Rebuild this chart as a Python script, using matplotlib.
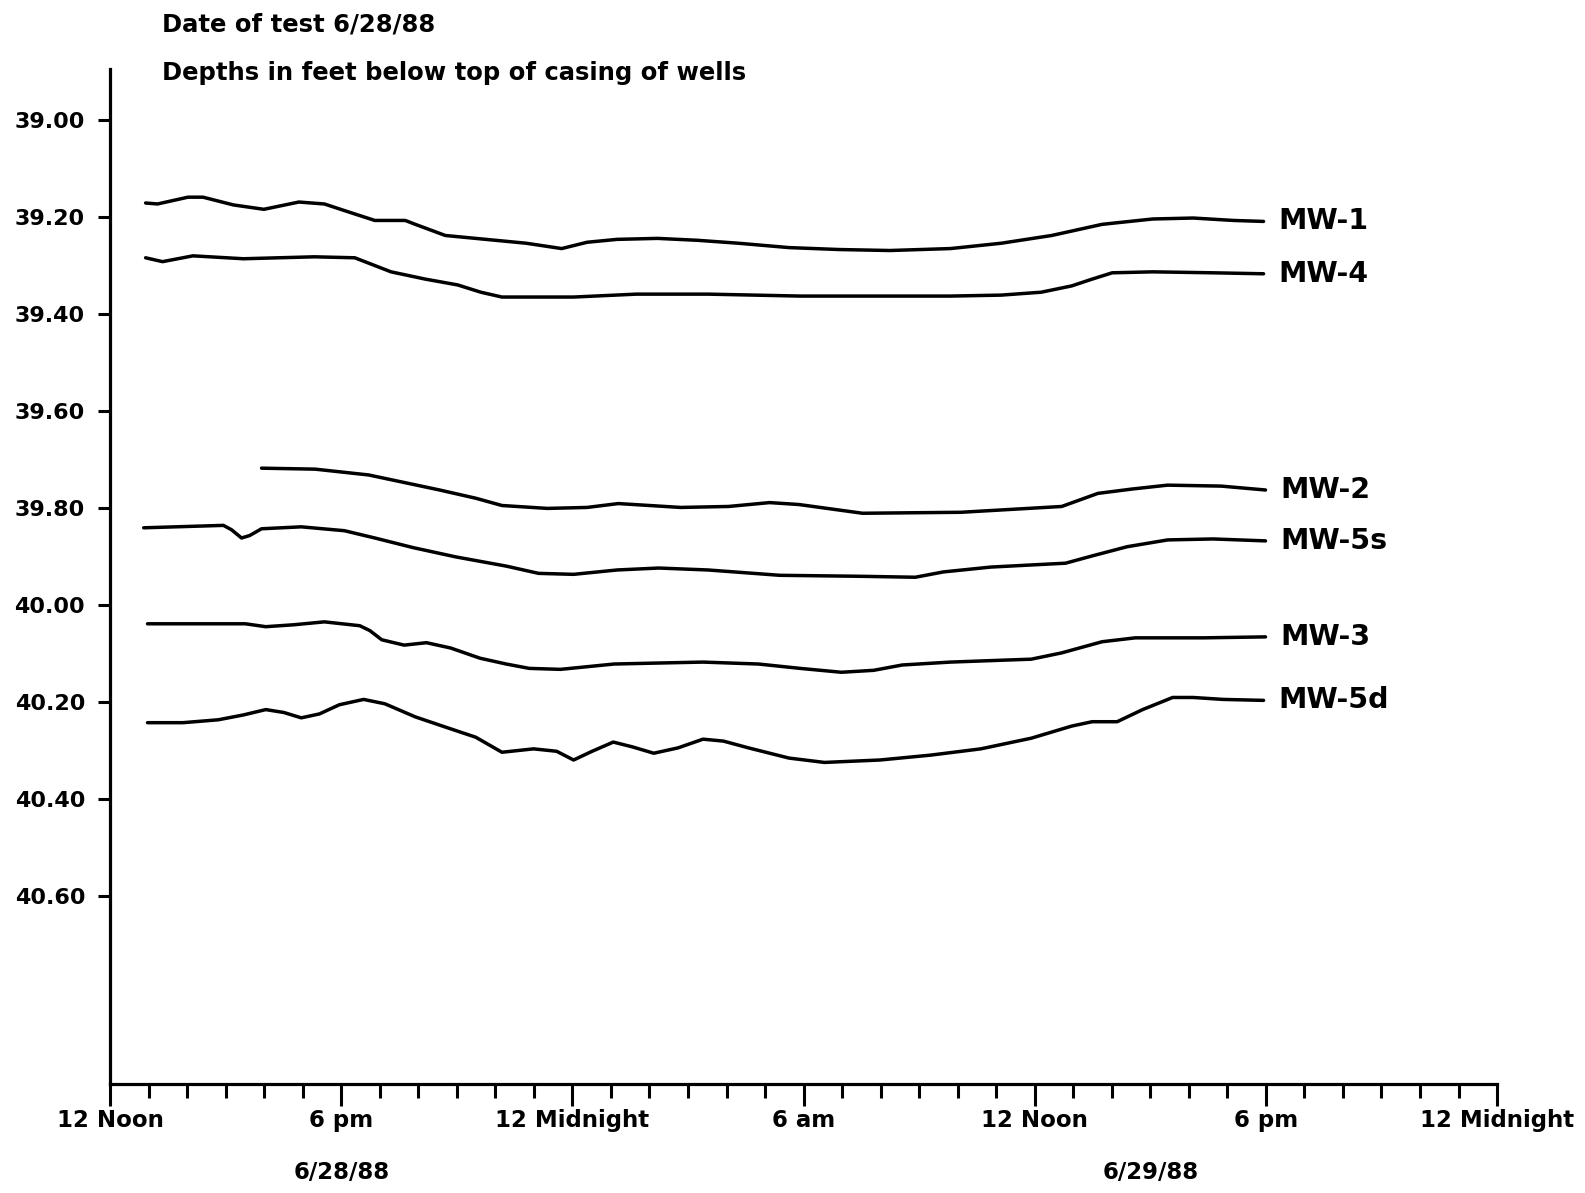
import matplotlib
matplotlib.use("Agg")
import matplotlib.pyplot as plt
from matplotlib.ticker import MultipleLocator, FixedLocator, FuncFormatter

plt.rcParams['font.family'] = ['DejaVu Sans']
plt.rcParams['font.weight'] = 'bold'

# hours after 12 noon 6/28/88, depth in feet below top of casing
mw1_hours = [0.92, 1.23, 2.02, 2.41, 3.20, 3.99, 4.90, 5.56, 6.21, 6.87, 7.66, 7.92, 8.70, 9.75,
             10.80, 11.72, 12.38, 13.16, 14.21, 15.26, 16.31, 17.62, 18.93, 20.24, 21.81, 23.13,
             24.44, 25.75, 27.06, 28.11, 29.16, 29.94]
mw1_depth = [39.171, 39.173, 39.159, 39.159, 39.175, 39.184, 39.169, 39.173, 39.190, 39.207,
             39.207, 39.215, 39.238, 39.246, 39.254, 39.265, 39.252, 39.246, 39.244, 39.248,
             39.254, 39.263, 39.267, 39.269, 39.265, 39.254, 39.238, 39.215, 39.204, 39.202,
             39.207, 39.209]

mw4_hours = [0.92, 1.36, 2.15, 3.46, 5.30, 6.35, 7.29, 8.18, 9.02, 9.62, 10.17, 12.03, 13.66,
             15.52, 17.91, 19.72, 21.81, 23.13, 24.17, 24.96, 25.49, 26.01, 27.06, 28.63, 29.94]
mw4_depth = [39.284, 39.292, 39.280, 39.286, 39.282, 39.284, 39.313, 39.328, 39.340, 39.355,
             39.365, 39.365, 39.359, 39.359, 39.363, 39.363, 39.363, 39.361, 39.355, 39.342,
             39.328, 39.315, 39.313, 39.315, 39.317]

mw2_hours = [3.93, 5.32, 6.71, 8.55, 9.49, 10.17, 11.35, 12.38, 13.19, 14.81, 16.05, 17.12,
             17.88, 19.53, 22.08, 24.70, 25.64, 26.53, 27.45, 28.84, 29.99]
mw2_depth = [39.718, 39.720, 39.732, 39.763, 39.780, 39.795, 39.801, 39.799, 39.791, 39.799,
             39.797, 39.789, 39.793, 39.811, 39.809, 39.797, 39.770, 39.761, 39.753, 39.755,
             39.763]

mw5s_hours = [0.87, 2.94, 3.15, 3.41, 3.62, 3.93, 4.96, 6.08, 6.87, 7.87, 8.97, 10.28, 11.12,
              12.03, 13.16, 14.24, 15.52, 17.38, 19.45, 20.90, 21.63, 22.86, 24.80, 25.49,
              26.40, 27.45, 28.63, 29.99]
mw5s_depth = [39.841, 39.836, 39.845, 39.862, 39.857, 39.843, 39.839, 39.847, 39.862, 39.882,
              39.901, 39.920, 39.935, 39.937, 39.928, 39.924, 39.928, 39.939, 39.941, 39.943,
              39.932, 39.922, 39.914, 39.899, 39.880, 39.866, 39.864, 39.868]

mw3_hours = [0.97, 3.51, 4.04, 4.77, 5.56, 6.48, 6.74, 7.05, 7.63, 8.21, 8.84, 9.60, 10.28,
             10.88, 11.69, 13.08, 14.21, 15.39, 16.83, 17.91, 18.98, 19.82, 20.56, 21.81,
             23.20, 23.91, 24.70, 25.75, 26.61, 28.37, 29.99]
mw3_depth = [40.039, 40.039, 40.045, 40.041, 40.035, 40.043, 40.053, 40.072, 40.083, 40.078,
             40.089, 40.110, 40.122, 40.131, 40.133, 40.122, 40.120, 40.118, 40.122, 40.131,
             40.139, 40.135, 40.124, 40.118, 40.114, 40.112, 40.099, 40.076, 40.068, 40.068,
             40.066]

mw5d_hours = [0.97, 1.89, 2.81, 3.46, 4.04, 4.51, 4.96, 5.43, 5.95, 6.58, 7.13, 7.92, 8.70,
              9.49, 10.17, 10.99, 11.59, 12.03, 12.51, 13.06, 13.56, 14.11, 14.74, 15.39,
              15.92, 16.57, 17.62, 18.54, 19.98, 21.29, 22.60, 23.91, 24.96, 25.49, 26.14,
              26.80, 27.58, 28.11, 28.89, 29.94]
mw5d_depth = [40.243, 40.243, 40.237, 40.227, 40.216, 40.222, 40.233, 40.225, 40.206, 40.195,
              40.204, 40.231, 40.252, 40.273, 40.304, 40.297, 40.302, 40.320, 40.302, 40.283,
              40.293, 40.306, 40.295, 40.277, 40.281, 40.295, 40.316, 40.325, 40.320, 40.310,
              40.297, 40.275, 40.250, 40.241, 40.241, 40.216, 40.191, 40.191, 40.195, 40.197]

wells = [
    ("MW-1", mw1_hours, mw1_depth),
    ("MW-4", mw4_hours, mw4_depth),
    ("MW-2", mw2_hours, mw2_depth),
    ("MW-5s", mw5s_hours, mw5s_depth),
    ("MW-3", mw3_hours, mw3_depth),
    ("MW-5d", mw5d_hours, mw5d_depth),
]

x_labels = ["12 Noon", "6 pm", "12 Midnight", "6 am", "12 Noon", "6 pm", "12 Midnight"]
y_ticks = [39.0, 39.2, 39.4, 39.6, 39.8, 40.0, 40.2, 40.4, 40.6]

fig = plt.figure(figsize=(15.85, 11.93), dpi=100)
ax = fig.add_axes([0.0695, 0.0915, 0.875, 0.8509])

for name, hrs, dep in wells:
    ax.plot(hrs, dep, color='black', lw=2.5, solid_capstyle='round', solid_joinstyle='round')
    ax.annotate(name, xy=(hrs[-1], dep[-1]), xytext=(11, 0), textcoords='offset points',
                va='center', ha='left', fontsize=20.5, fontweight='bold')

ax.set_xlim(0, 36)
ax.set_ylim(40.988, 38.894)

ax.spines['top'].set_visible(False)
ax.spines['right'].set_visible(False)
ax.spines['left'].set_linewidth(2.3)
ax.spines['bottom'].set_linewidth(2.3)

# hourly ticks, long ones every 6 hours
ax.xaxis.set_minor_locator(FixedLocator([h for h in range(37) if h % 6 != 0]))
ax.set_xticks(range(0, 37, 6))
ax.set_xticklabels(x_labels)
ax.tick_params(axis='x', which='major', length=16, width=2.2, pad=2, labelsize=16.5)
ax.tick_params(axis='x', which='minor', length=10, width=2.2)

ax.set_yticks(y_ticks)
ax.yaxis.set_major_formatter(FuncFormatter(lambda v, p: "%.2f" % v))
ax.tick_params(axis='y', length=9, width=2.2, pad=9, labelsize=16)

for lab in ax.get_xticklabels() + ax.get_yticklabels():
    lab.set_fontweight('bold')

# date captions under the time axis
ax.text(6, -0.0876, "6/28/88", transform=ax.get_xaxis_transform(), ha='center', va='center',
        fontsize=16.5, fontweight='bold')
ax.text(27, -0.0876, "6/29/88", transform=ax.get_xaxis_transform(), ha='center', va='center',
        fontsize=16.5, fontweight='bold')

fig.text(0.102, 0.9797, "Date of test 6/28/88", ha='left', va='center', fontsize=17.5,
         fontweight='bold')
fig.text(0.102, 0.939, "Depths in feet below top of casing of wells", ha='left', va='center',
         fontsize=17.5, fontweight='bold')

fig.savefig("out.png", dpi=100)
